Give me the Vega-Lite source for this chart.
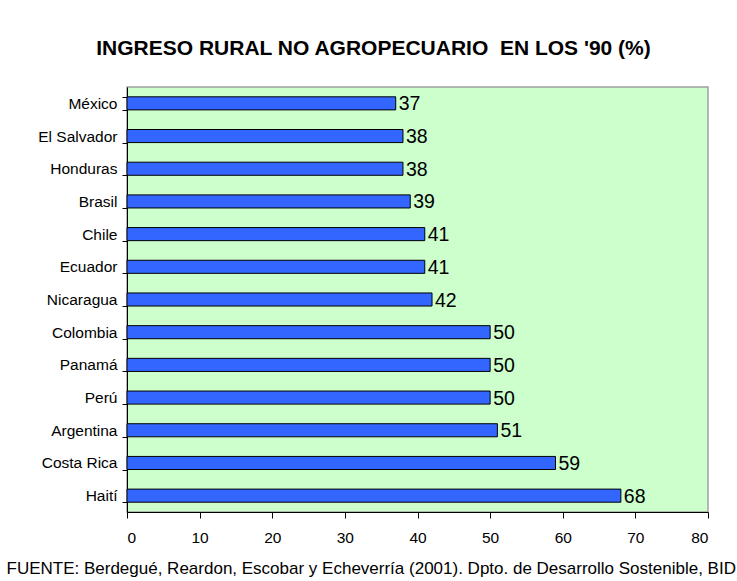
{
  "$schema": "https://vega.github.io/schema/vega-lite/v6.json",
  "width": 581,
  "height": 425,
  "autosize": {"type": "none"},
  "padding": {"left": 127, "top": 87, "right": 29, "bottom": 69},
  "background": "white",
  "title": {
    "text": "INGRESO RURAL NO AGROPECUARIO \u00a0EN LOS '90 (%)",
    "font": "Liberation Sans",
    "fontSize": 21,
    "fontWeight": "bold",
    "color": "black",
    "anchor": "middle",
    "dx": -44,
    "offset": 21
  },
  "data": {
    "values": [
      {"pais": "México", "valor": 37},
      {"pais": "El Salvador", "valor": 38},
      {"pais": "Honduras", "valor": 38},
      {"pais": "Brasil", "valor": 39},
      {"pais": "Chile", "valor": 41},
      {"pais": "Ecuador", "valor": 41},
      {"pais": "Nicaragua", "valor": 42},
      {"pais": "Colombia", "valor": 50},
      {"pais": "Panamá", "valor": 50},
      {"pais": "Perú ", "valor": 50},
      {"pais": "Argentina", "valor": 51},
      {"pais": "Costa Rica", "valor": 59},
      {"pais": "Haití", "valor": 68}
    ]
  },
  "encoding": {
    "y": {
      "field": "pais",
      "type": "nominal",
      "sort": null,
      "scale": {"paddingInner": 0.6, "paddingOuter": 0.3},
      "axis": {
        "title": null,
        "labelFont": "Liberation Sans",
        "labelFontSize": 15.5,
        "labelColor": "black",
        "labelPadding": 5,
        "tickBand": "extent",
        "tickColor": "black",
        "tickSize": 5,
        "domainColor": "black",
        "grid": false
      }
    },
    "x": {
      "field": "valor",
      "type": "quantitative",
      "scale": {"domain": [0, 80], "nice": false},
      "axis": {
        "values": [0, 10, 20, 30, 40, 50, 60, 70, 80],
        "title": "FUENTE: Berdegué, Reardon, Escobar y Echeverría (2001). Dpto. de Desarrollo Sostenible, BID",
        "titleFont": "Liberation Sans",
        "titleFontSize": 17,
        "titleFontWeight": "normal",
        "titleColor": "black",
        "titleAnchor": "start",
        "titleAlign": "left",
        "titleBaseline": "middle",
        "titleX": -121,
        "titleY": 56,
        "labelFont": "Liberation Sans",
        "labelFontSize": 15.5,
        "labelColor": "black",
        "labelPadding": 12,
        "tickColor": "black",
        "tickSize": 6,
        "domainColor": "black",
        "grid": false
      }
    }
  },
  "layer": [
    {
      "mark": {"type": "bar", "fill": "#3366FF", "stroke": "black", "strokeWidth": 1}
    },
    {
      "mark": {"type": "text", "align": "left", "baseline": "middle", "dx": 3, "dy": 1, "font": "Liberation Sans", "fontSize": 19.5, "color": "black"},
      "encoding": {"text": {"field": "valor", "type": "quantitative"}}
    }
  ],
  "config": {
    "view": {"fill": "#CCFFCC", "stroke": "#A0A0A0", "strokeWidth": 1.5}
  }
}
